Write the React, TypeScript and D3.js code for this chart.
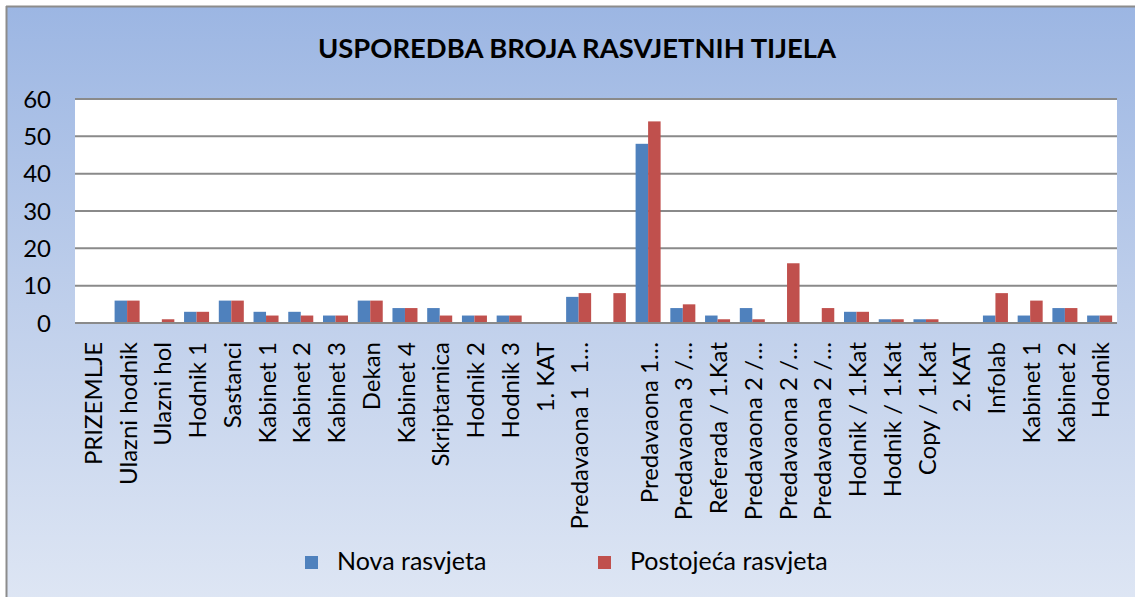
import React from "react";
import * as d3 from "d3";

const categories = [
  "PRIZEMLJE", "Ulazni hodnik", "Ulazni hol", "Hodnik 1", "Sastanci",
  "Kabinet 1", "Kabinet 2", "Kabinet 3", "Dekan", "Kabinet 4",
  "Skriptarnica", "Hodnik 2", "Hodnik 3", "1. KAT", "Predavaona 1  1…",
  "", "Predavaona 1…", "Predavaona 3 /…", "Referada / 1.Kat", "Predavaona 2 /…",
  "Predavaona 2 /…", "Predavaona 2 /…", "Hodnik / 1.Kat", "Hodnik / 1.Kat", "Copy / 1.Kat",
  "2. KAT", "Infolab", "Kabinet 1", "Kabinet 2", "Hodnik",
];
const novaRasvjeta = [0, 6, 0, 3, 6, 3, 3, 2, 6, 4, 4, 2, 2, 0, 7, 0, 48, 4, 2, 4, 0, 0, 3, 1, 1, 0, 2, 2, 4, 2];
const postojecaRasvjeta = [0, 6, 1, 3, 6, 2, 2, 2, 6, 4, 2, 2, 2, 0, 8, 8, 54, 5, 1, 1, 16, 4, 3, 1, 1, 0, 8, 6, 4, 2];
const seriesNames = ["Nova rasvjeta", "Postojeća rasvjeta"];
const yTicks = [0, 10, 20, 30, 40, 50, 60];
const title = "USPOREDBA BROJA RASVJETNIH TIJELA";

const W = 1135;
const H = 597;
const FONT = "Lato, 'Open Sans', sans-serif";
const COLORS = ["#4f81bd", "#c0504d"];
const GRID = "#8a8a8a";

export default function App() {
  const plot = { left: 75, right: 1117, top: 99, bottom: 323 };
  const x = d3
    .scaleBand<number>()
    .domain(d3.range(categories.length))
    .range([plot.left, plot.right])
    .paddingInner(0.28)
    .paddingOuter(0.14);
  const xs = d3.scaleBand<number>().domain([0, 1]).range([0, x.bandwidth()]);
  const y = d3.scaleLinear().domain([0, 60]).range([plot.bottom, plot.top]);
  const series = [novaRasvjeta, postojecaRasvjeta];

  return (
    <svg
      width={W}
      height={H}
      style={{ position: "absolute", left: 0, top: 0, display: "block" }}
      fontFamily={FONT}
    >
      <defs>
        <linearGradient id="bg" x1="0" y1="0" x2="0" y2="1">
          <stop offset="0" stopColor="#9cb6e3" />
          <stop offset="0.5" stopColor="#bfcfeb" />
          <stop offset="1" stopColor="#dee6f4" />
        </linearGradient>
      </defs>
      <rect x={0} y={0} width={W} height={H} fill="#ffffff" />
      <rect x={7} y={7} width={W} height={H} fill="url(#bg)" />
      <line x1={6.5} y1={6} x2={6.5} y2={H} stroke="#8c8c8c" strokeWidth={2} />
      <line x1={6} y1={6.5} x2={W} y2={6.5} stroke="#8c8c8c" strokeWidth={2} />

      <text
        x={577}
        y={58}
        textAnchor="middle"
        fontWeight="bold"
        fontSize={26}
        fill="#000"
        textLength={518}
        lengthAdjust="spacingAndGlyphs"
      >
        {title}
      </text>

      <rect
        x={plot.left}
        y={plot.top}
        width={plot.right - plot.left}
        height={plot.bottom - plot.top}
        fill="#ffffff"
      />
      {yTicks.map((t) => (
        <g key={t}>
          <line
            x1={plot.left}
            x2={plot.right}
            y1={y(t)}
            y2={y(t)}
            stroke={GRID}
            strokeWidth={2}
          />
          <text
            x={51}
            y={y(t)}
            dy="0.36em"
            textAnchor="end"
            fontSize={24}
            fill="#000"
          >
            {t}
          </text>
        </g>
      ))}

      {categories.map((c, i) => (
        <g key={i}>
          {series.map((vals, s) =>
            vals[i] > 0 ? (
              <rect
                key={s}
                x={(x(i) as number) + (xs(s) as number)}
                y={y(vals[i])}
                width={xs.bandwidth()}
                height={y(0) - y(vals[i])}
                fill={COLORS[s]}
              />
            ) : null
          )}
        </g>
      ))}
      <line
        x1={plot.left}
        x2={plot.right}
        y1={y(0)}
        y2={y(0)}
        stroke={GRID}
        strokeWidth={2}
      />

      {categories.map((c, i) => {
        const cx = (x(i) as number) + x.bandwidth() / 2;
        return (
          <text
            key={i}
            transform={`translate(${cx},342) rotate(-90)`}
            dy="0.4em"
            textAnchor="end"
            fontSize={24}
            fill="#000"
            style={{ whiteSpace: "pre" }}
          >
            {c}
          </text>
        );
      })}

      {seriesNames.map((n, s) => {
        const lx = s === 0 ? 305 : 598;
        return (
          <g key={n}>
            <rect x={lx} y={556} width={13} height={13} fill={COLORS[s]} />
            <text x={lx + 32} y={570} fontSize={25} fill="#000">
              {n}
            </text>
          </g>
        );
      })}
    </svg>
  );
}
